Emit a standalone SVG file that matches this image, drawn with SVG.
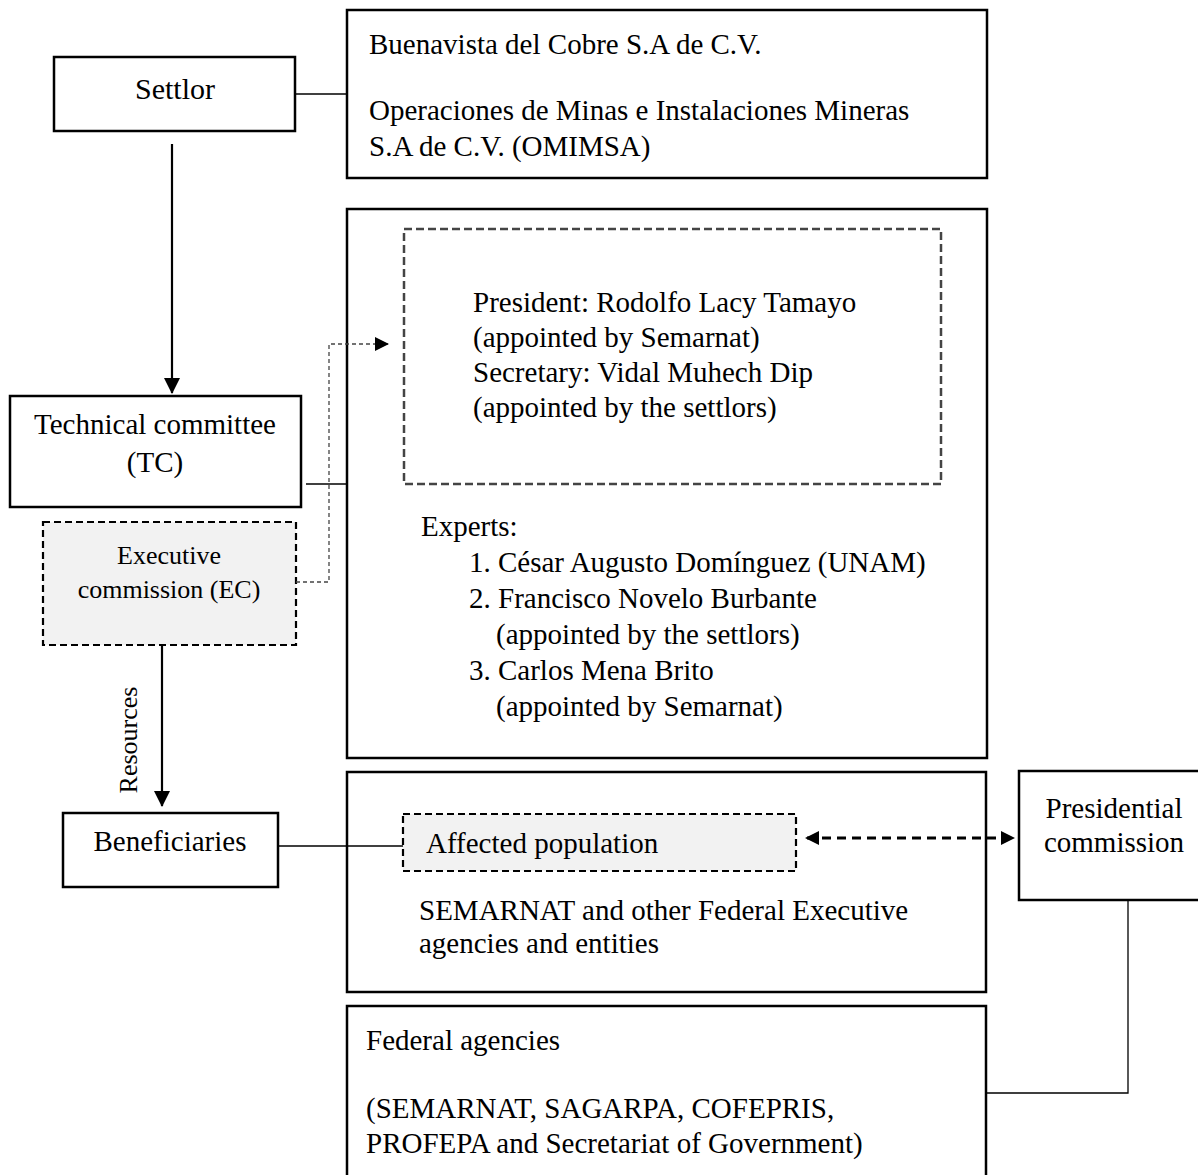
<svg xmlns="http://www.w3.org/2000/svg" width="1198" height="1175" viewBox="0 0 1198 1175">
<defs>
<style>
text{font-family:"Liberation Serif","Times New Roman",serif;font-size:29px;fill:#000}
.box{fill:#fff;stroke:#000;stroke-width:2.5}
.dbox{fill:#f2f2f2;stroke:#000;stroke-width:2.2;stroke-dasharray:7 4}
.gbox{fill:none;stroke:#444;stroke-width:2.5;stroke-dasharray:8 4}
.ln{fill:none;stroke:#000;stroke-width:1.3}
.arr{fill:none;stroke:#000;stroke-width:2.2}
.dot{fill:none;stroke:#444;stroke-width:1.3;stroke-dasharray:4 3}
.bi{fill:none;stroke:#000;stroke-width:2.8;stroke-dasharray:9 6}
.mid{text-anchor:middle}
.sm{font-size:26px}
</style>
<marker id="ah" markerWidth="16" markerHeight="16" refX="15" refY="8" orient="auto" markerUnits="userSpaceOnUse"><path d="M0,0 L16,8 L0,16 Z" fill="#000"/></marker>
<marker id="ahs" markerWidth="14" markerHeight="14" refX="13" refY="7" orient="auto" markerUnits="userSpaceOnUse"><path d="M0,0 L14,7 L0,14 Z" fill="#000"/></marker>
<marker id="ahb" markerWidth="14" markerHeight="14" refX="12" refY="7" orient="auto-start-reverse" markerUnits="userSpaceOnUse"><path d="M0,0 L14,7 L0,14 Z" fill="#000"/></marker>
</defs>
<g id="companies">
<rect class="box" x="347" y="10" width="640" height="168"/>
<text x="369" y="54">Buenavista del Cobre S.A de C.V.</text>
<text x="369" y="120">Operaciones de Minas e Instalaciones Mineras</text>
<text x="369" y="156">S.A de C.V. (OMIMSA)</text>
</g>
<g id="settlor">
<rect class="box" x="54" y="57" width="241" height="74"/>
<text class="mid" x="175" y="99" style="font-size:30px">Settlor</text>
</g>
<g id="committee-members">
<rect class="box" x="347" y="209" width="640" height="549"/>
<rect class="gbox" x="404" y="229" width="537" height="255"/>
<text x="473" y="312">President: Rodolfo Lacy Tamayo</text>
<text x="473" y="347">(appointed by Semarnat)</text>
<text x="473" y="382">Secretary: Vidal Muhech Dip</text>
<text x="473" y="417">(appointed by the settlors)</text>
<text x="421" y="536">Experts:</text>
<text x="469" y="572">1. César Augusto Domínguez (UNAM)</text>
<text x="469" y="608">2. Francisco Novelo Burbante</text>
<text x="496" y="644">(appointed by the settlors)</text>
<text x="469" y="680">3. Carlos Mena Brito</text>
<text x="496" y="716">(appointed by Semarnat)</text>
</g>
<g id="technical-committee">
<rect class="box" x="10" y="396" width="291" height="111"/>
<text class="mid" x="155" y="434">Technical committee</text>
<text class="mid" x="155" y="472">(TC)</text>
</g>
<g id="executive-commission">
<rect class="dbox" x="43" y="522" width="253" height="123"/>
<text class="mid sm" x="169" y="564">Executive</text>
<text class="mid sm" x="169" y="598">commission (EC)</text>
</g>
<g id="beneficiaries">
<rect class="box" x="63" y="813" width="215" height="74"/>
<text class="mid" x="170" y="851">Beneficiaries</text>
</g>
<g id="beneficiary-groups">
<rect class="box" x="347" y="772" width="639" height="220"/>
<rect class="dbox" x="403" y="814" width="393" height="57"/>
<text x="426" y="853">Affected population</text>
<text x="419" y="920">SEMARNAT and other Federal Executive</text>
<text x="419" y="953">agencies and entities</text>
</g>
<g id="presidential-commission">
<rect class="box" x="1019" y="771" width="190" height="129"/>
<text class="mid" x="1114" y="818">Presidential</text>
<text class="mid" x="1114" y="852">commission</text>
</g>
<g id="federal-agencies">
<rect class="box" x="347" y="1006" width="639" height="185"/>
<text x="366" y="1050">Federal agencies</text>
<text x="366" y="1118">(SEMARNAT, SAGARPA, COFEPRIS,</text>
<text x="366" y="1153">PROFEPA and Secretariat of Government)</text>
</g>
<g id="connectors">
<path class="ln" d="M295,94 H347"/>
<path class="arr" d="M172,144 V393" marker-end="url(#ah)"/>
<path class="ln" d="M306,484 H347"/>
<path class="dot" d="M296,582 H329 V344 H388" marker-end="url(#ahs)"/>
<path class="arr" d="M162,645 V806" marker-end="url(#ah)"/>
<text class="sm mid" transform="translate(137,740) rotate(-90)">Resources</text>
<path class="ln" d="M278,846 H403"/>
<path class="bi" d="M807,838 H1013" marker-start="url(#ahb)" marker-end="url(#ahb)"/>
<path class="ln" d="M1128,900 V1093 H986"/>
</g>
</svg>
